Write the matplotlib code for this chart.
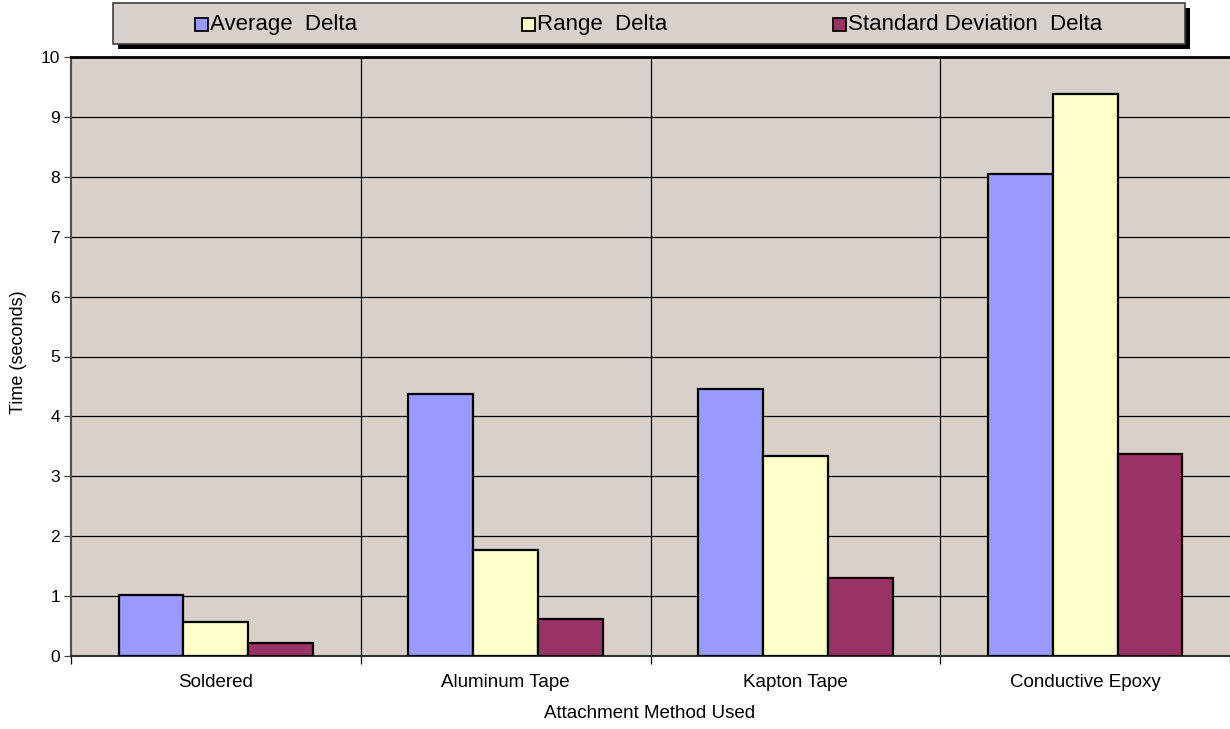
import matplotlib
matplotlib.use("Agg")
import matplotlib.pyplot as plt
from matplotlib.patches import Rectangle
import numpy as np

categories = ["Soldered", "Aluminum Tape", "Kapton Tape", "Conductive Epoxy"]
series_names = ["Average  Delta", "Range  Delta", "Standard Deviation  Delta"]
average_delta = [1.02, 4.37, 4.46, 8.04]
range_delta = [0.57, 1.77, 3.34, 9.39]
std_delta = [0.22, 0.61, 1.31, 3.38]
y_ticks = [0, 1, 2, 3, 4, 5, 6, 7, 8, 9, 10]

colors = ["#9999FF", "#FFFFCC", "#993366"]
bg = "#D8D0CA"

plt.rcParams['font.family'] = ['Liberation Sans', 'DejaVu Sans']

W, H = 1230, 729
fig = plt.figure(figsize=(W / 100, H / 100), dpi=100)
ax = fig.add_axes([71 / W, (H - 656) / H, (1230 - 71) / W, (656 - 57) / H])
ax.set_facecolor(bg)

x = np.arange(len(categories))
bw = 0.224
for i, vals in enumerate([average_delta, range_delta, std_delta]):
    ax.bar(x + (i - 1) * bw, vals, width=bw, color=colors[i],
           edgecolor="black", linewidth=1.6, zorder=3)

ax.set_xlim(-0.5, len(categories) - 0.5)
ax.set_ylim(0, 10)
ax.set_yticks(y_ticks)
ax.set_yticklabels([str(t) for t in y_ticks], fontsize=12.5)
for t in y_ticks[1:]:
    ax.axhline(t, color="black", linewidth=0.9, zorder=1)
for b in np.arange(0.5, len(categories) - 0.5, 1.0):
    ax.axvline(b, color="black", linewidth=0.9, zorder=1)

ax.set_xticks(x)
ax.set_xticklabels(categories, fontsize=13.5)
ax.tick_params(axis="x", length=0, pad=13)
ax.set_xticks(np.arange(-0.5, len(categories), 1.0), minor=True)
ax.tick_params(axis="x", which="minor", length=6, width=0.9, color="black")
ax.tick_params(axis="y", length=5, width=0.9, pad=3, color="#404040")

ax.spines["right"].set_visible(False)
ax.spines["top"].set_color("black")
ax.spines["top"].set_linewidth(2)
ax.spines["left"].set_color("#505050")
ax.spines["left"].set_linewidth(1.5)
ax.spines["bottom"].set_color("#303030")
ax.spines["bottom"].set_linewidth(1.5)

fig.text(19 / W, 1 - 352 / H, "Time (seconds)", rotation=90, ha="center",
         va="center", fontsize=13)
fig.text(650 / W, 1 - 713 / H, "Attachment Method Used", ha="center",
         va="center", fontsize=13.5)

# Legend box with shadow
lx0, lx1, ly0, ly1 = 113, 1185, 3, 44
sh = 5
fig.patches.append(Rectangle(((lx0 + sh) / W, 1 - (ly1 + sh) / H),
                             (lx1 - lx0) / W, (ly1 - ly0) / H,
                             transform=fig.transFigure,
                             facecolor="black", edgecolor="none", zorder=1))
fig.patches.append(Rectangle((lx0 / W, 1 - ly1 / H), (lx1 - lx0) / W,
                             (ly1 - ly0) / H, transform=fig.transFigure,
                             facecolor=bg, edgecolor="#404040", linewidth=1.2,
                             zorder=2))

marker_x = [195, 522, 833]
for mx, name, c in zip(marker_x, series_names, colors):
    fig.patches.append(Rectangle((mx / W, 1 - 31 / H), 13 / W, 13 / H,
                                 transform=fig.transFigure, facecolor=c,
                                 edgecolor="black", linewidth=1.3, zorder=3))
    fig.text((mx + 15) / W, 1 - 24.5 / H, name, ha="left", va="center",
             fontsize=16, zorder=4)

fig.savefig("out.png", dpi=100)
